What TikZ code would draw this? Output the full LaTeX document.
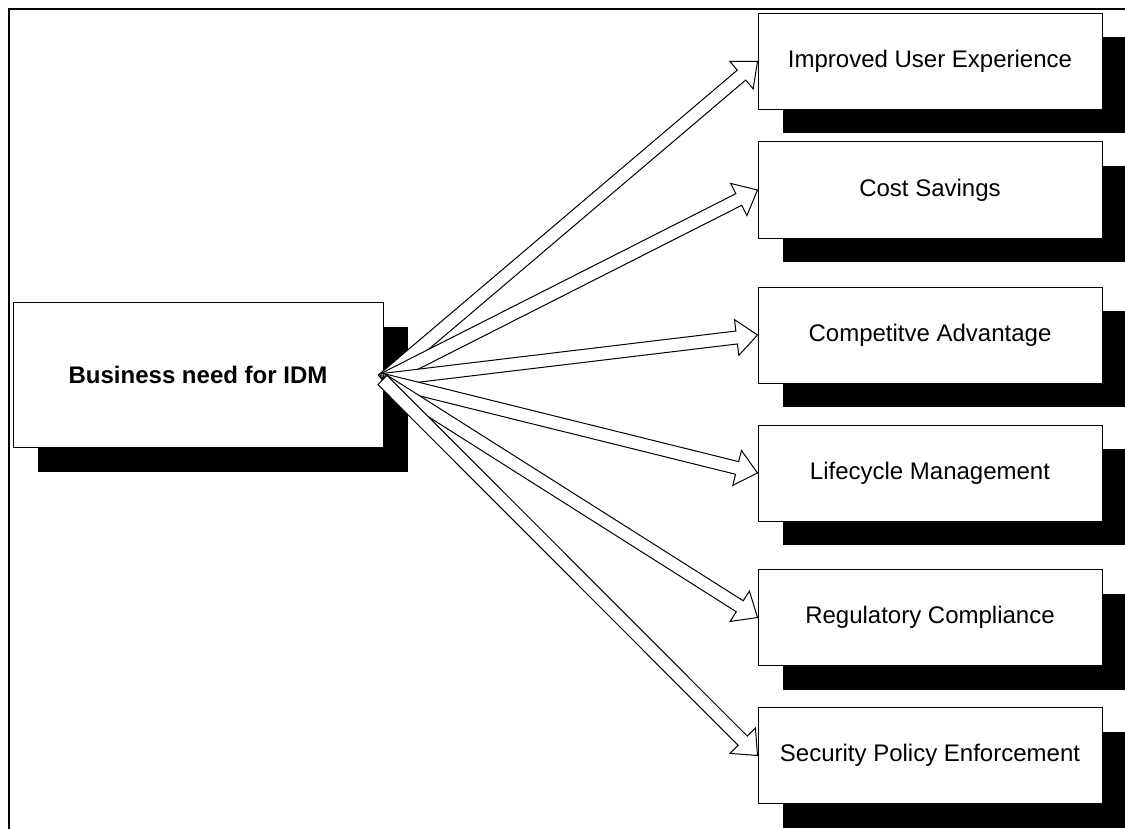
\documentclass[tikz,border=0pt]{standalone}
\usepackage{fontspec}
\setmainfont{Liberation Sans}
\usetikzlibrary{calc,shadows}

% hollow block arrow with a straight shaft
\newcommand{\needarrow}[2]{%
  \coordinate (hb) at ($(#2)!10.5pt!(#1)$);
  \draw[blockarrow] ($(#1)!3.25pt!-90:(#2)$) -- ($(#1)!3.25pt!90:(#2)$)
    -- ($(hb)!3.25pt!-90:(#1)$) -- ($(hb)!9pt!-90:(#1)$) -- (#2)
    -- ($(hb)!9pt!90:(#1)$) -- ($(hb)!3.25pt!90:(#1)$) -- cycle;}

\tikzset{
  idmbox/.style={draw, fill=white, line width=0.5pt, inner sep=0pt,
    minimum width=172pt, minimum height=48pt,
    font=\fontsize{12}{14}\selectfont,
    drop shadow={shadow xshift=12.5pt, shadow yshift=-12pt, fill=black, opacity=1}},
  blockarrow/.style={draw, fill=white, line width=0.5pt, line join=miter}
}

\begin{document}
\begin{tikzpicture}[x=0.5pt, y=-0.5pt]
    \useasboundingbox (0, 0) rectangle (1125, 829);
    \clip (0, 0) rectangle (1125, 829);
    % outer frame
    \draw[line width=1.2pt] (9, 9) rectangle (1150, 850);

    % source
    \node[idmbox, minimum width=185pt, minimum height=72.5pt, font=\fontsize{12}{14}\selectfont\bfseries]
        (need) at (198, 375) {Business need for IDM};

    % benefits
    \node[idmbox] (ux)   at (930, 61.5)  {Improved User Experience};
    \node[idmbox] (cost) at (930, 190)   {Cost Savings};
    \node[idmbox] (comp) at (930, 335)   {Competitve Advantage};
    \node[idmbox] (life) at (930, 473)   {Lifecycle Management};
    \node[idmbox] (reg)  at (930, 617.5) {Regulatory Compliance};
    \node[idmbox] (sec)  at (930, 755.5) {Security Policy Enforcement};

    \coordinate (src) at ($(need.east)+(-1, 5)$);
    \foreach \t in {ux, cost, comp, life, reg, sec}
        \needarrow{src}{\t.west};
\end{tikzpicture}
\end{document}
